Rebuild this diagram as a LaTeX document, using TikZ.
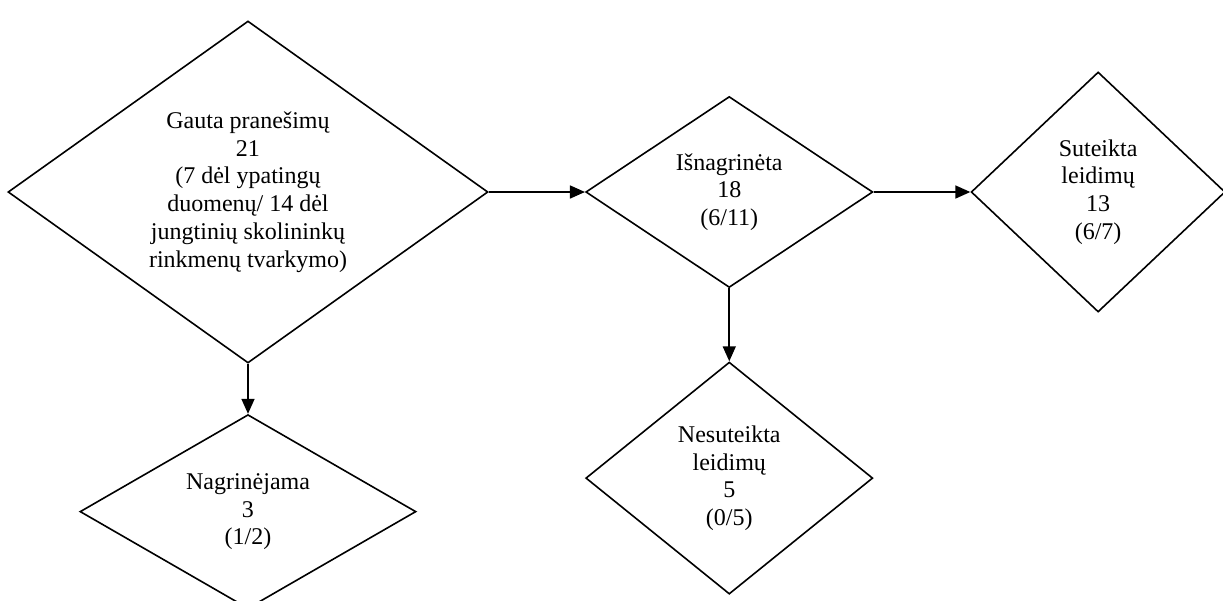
\documentclass[tikz,border=0pt]{standalone}
\usepackage{fontspec}
\setmainfont{Liberation Serif}
\usetikzlibrary{positioning,arrows.meta}
\usetikzlibrary{shapes.geometric}
\tikzset{
mydiam/.style={
  diamond,
  draw=black,
  line width=0.8pt,
  inner sep=0pt,
  aspect=1.4,
  align=center,
  font=\fontsize{12pt}{13.85pt}\selectfont
  }
}

\begin{document}
\begin{tikzpicture}[>={Triangle[length=7.5pt,width=6.5pt]}]

\useasboundingbox (0,0) rectangle (21.492,-10.544);

\node[mydiam,minimum width=8.435cm,minimum height=6.01cm]
at (4.358,-3.374)
(gauta)
{ Gauta pranešimų\\ 21\\ (7 dėl ypatingų\\ duomenų/ 14 dėl\\
  jungtinių skolininkų\\ rinkmenų tvarkymo) };

\node[mydiam,minimum width=5.044cm,minimum height=3.356cm,
  right=1.69cm of gauta]
(isn)
{ Išnagrinėta\\ 18\\ (6/11) };

\node[mydiam,minimum width=4.464cm,minimum height=4.218cm,
  right=1.70cm of isn]
(sut)
{ Suteikta\\ leidimų\\ 13\\ (6/7) };

\node[mydiam,minimum width=5.905cm,minimum height=3.409cm,
  below=0.879cm of gauta]
(nag)
{ Nagrinėjama\\ 3\\ (1/2) };

\node[mydiam,minimum width=5.044cm,minimum height=4.077cm,
  below=1.283cm of isn]
(nes)
{ Nesuteikta\\ leidimų\\ 5\\ (0/5) };

\draw[->,line width=0.8pt] (gauta) -- (isn);
\draw[->,line width=0.8pt] (isn) -- (sut);
\draw[->,line width=0.8pt] (gauta) -- (nag);
\draw[->,line width=0.8pt] (isn) -- (nes);

% \node[right=5pt of sut]{};

\end{tikzpicture}
\end{document}
